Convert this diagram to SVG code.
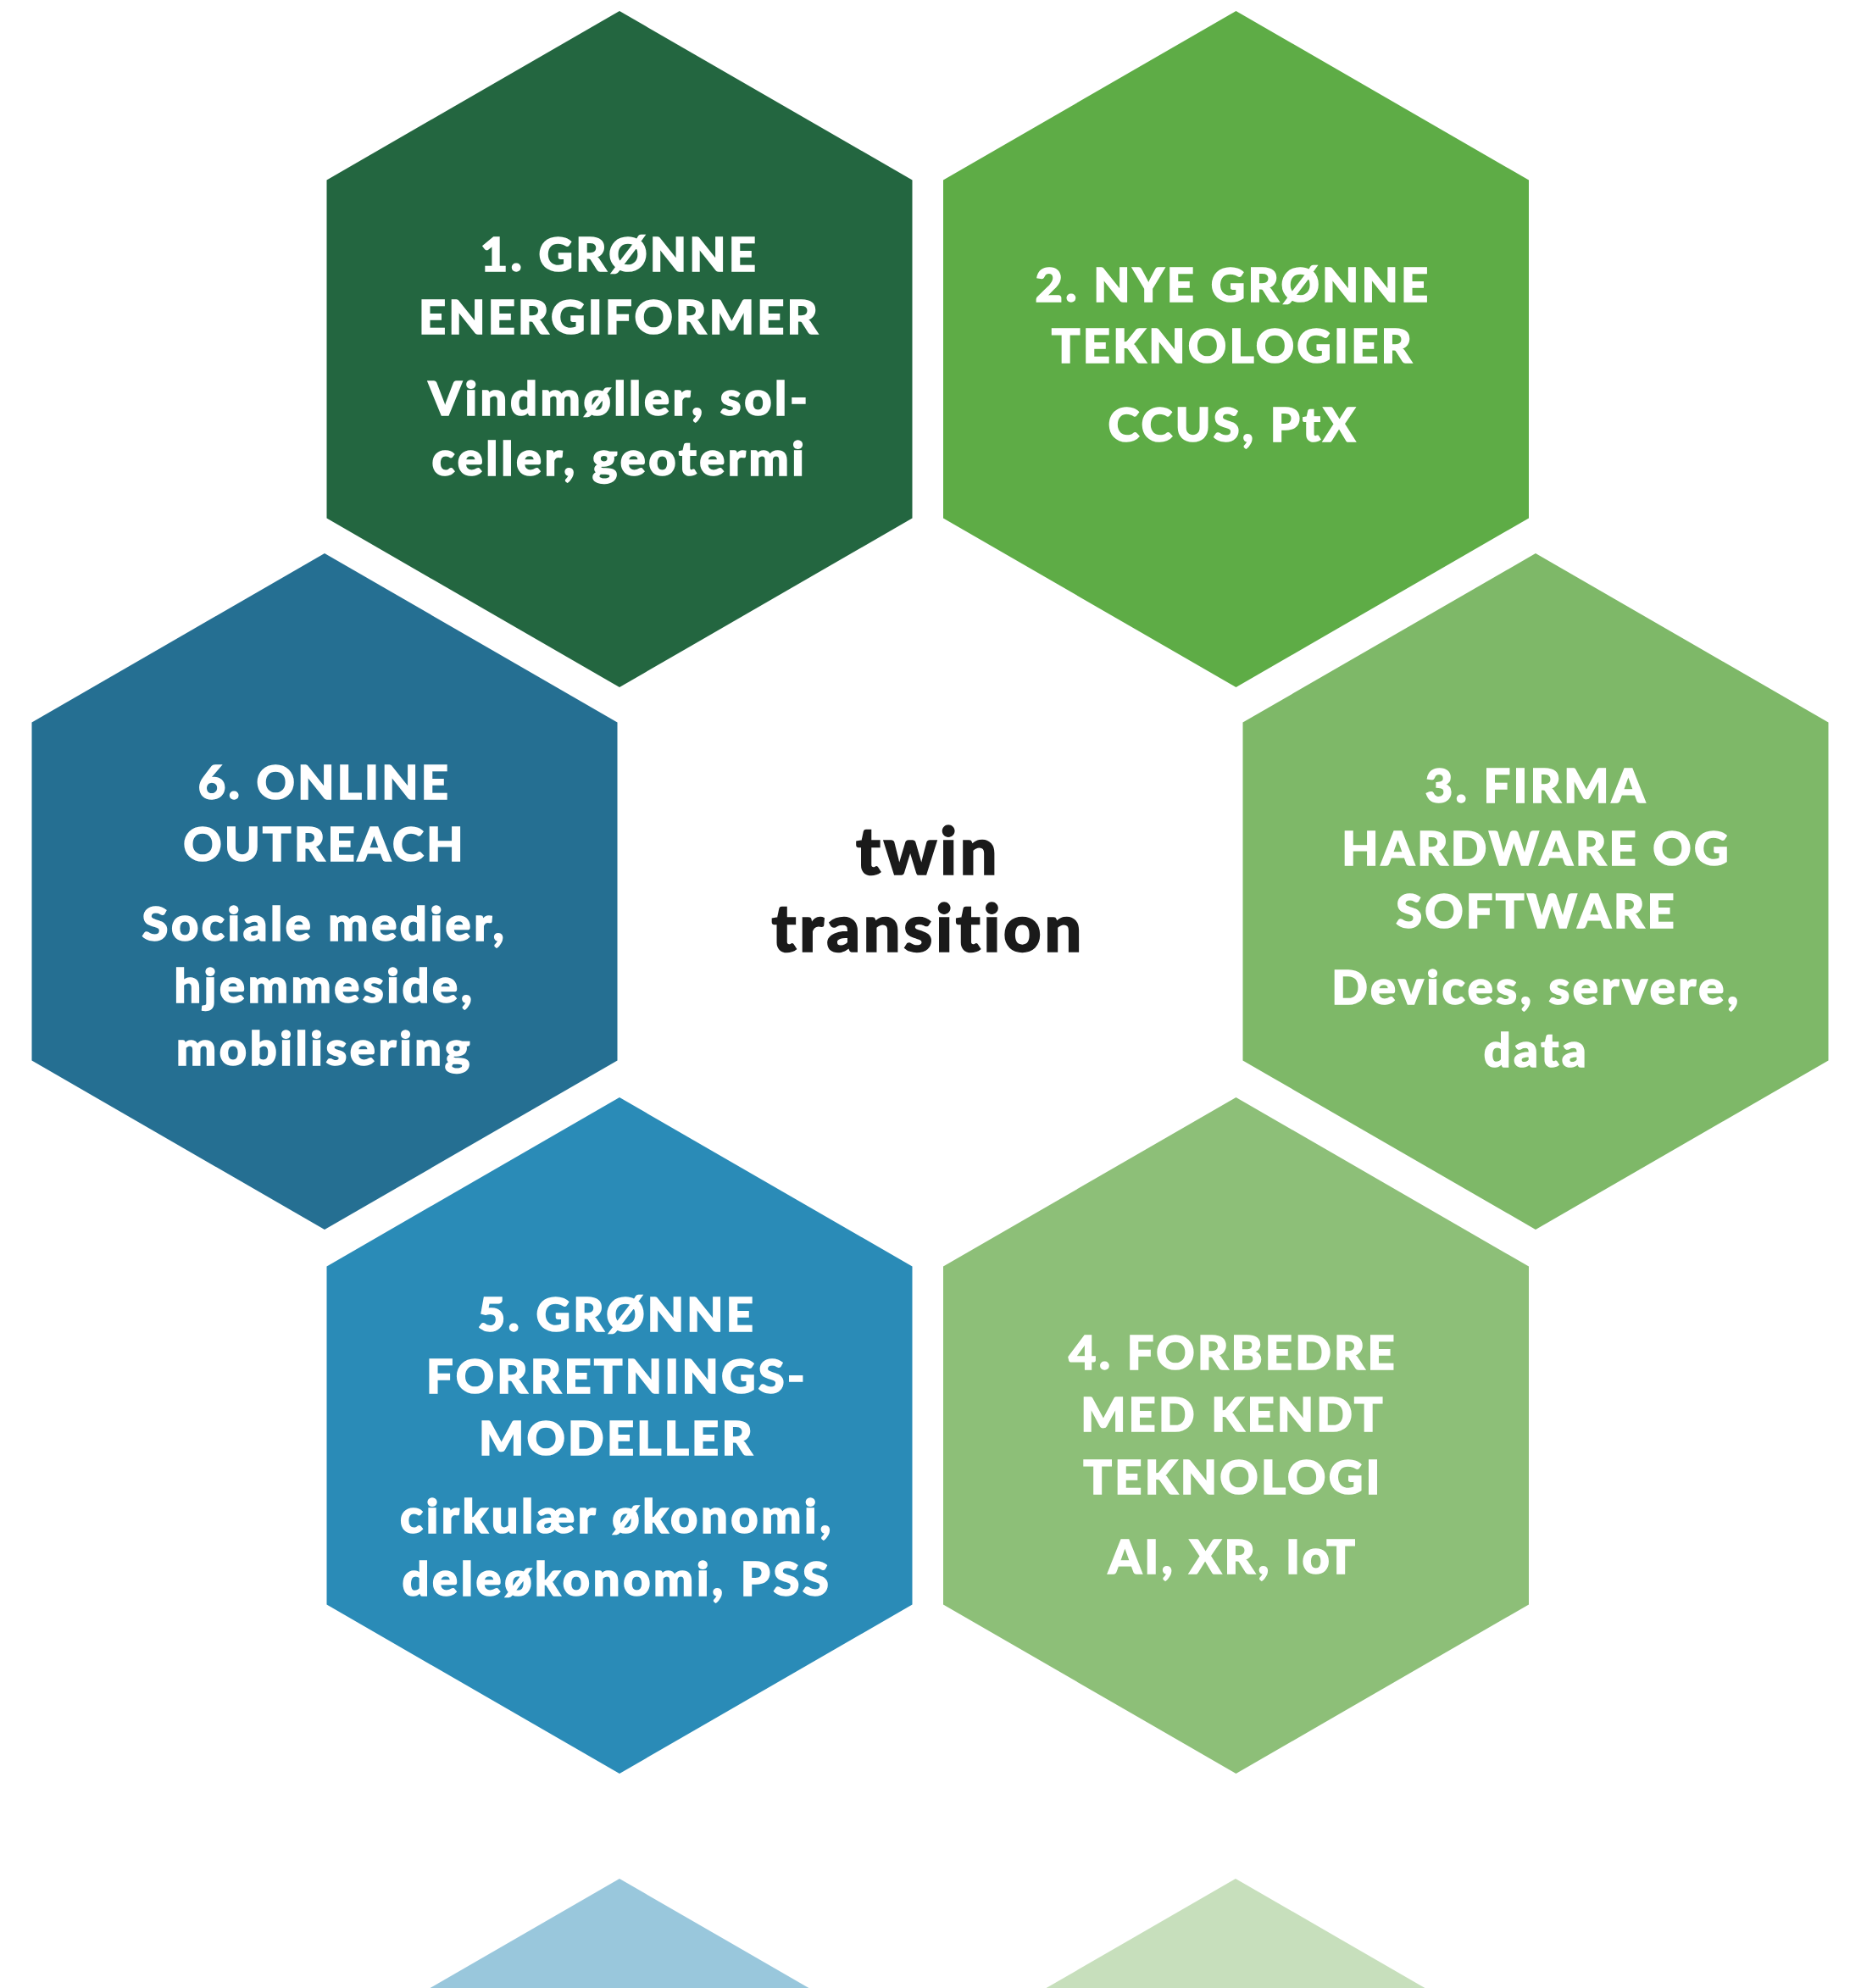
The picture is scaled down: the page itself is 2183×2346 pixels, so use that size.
<svg xmlns="http://www.w3.org/2000/svg" xmlns:xlink="http://www.w3.org/1999/xlink" width="2183" height="2346" viewBox="0 0 2183 2346">
<style>
.t{font-family:Lato,"Open Sans","Liberation Sans",sans-serif;font-weight:900;font-size:56px;letter-spacing:3.2px;fill:#ffffff;stroke:#ffffff;stroke-width:1.5px;text-anchor:middle}
.s{letter-spacing:3.6px}
.c{font-family:Lato,"Open Sans","Liberation Sans",sans-serif;font-weight:900;font-size:78px;letter-spacing:3.3px;fill:#1a1a1a;stroke:#1a1a1a;stroke-width:1.5px;text-anchor:middle}
</style>
<defs>
<polygon id="hex" points="0,-399 345.5,-199.5 345.5,199.5 0,399 -345.5,199.5 -345.5,-199.5"/>
<linearGradient id="gb" gradientUnits="userSpaceOnUse" x1="0" y1="2217" x2="0" y2="2346">
<stop offset="0" stop-color="#99C7DC"/><stop offset="1" stop-color="#ACD2E3"/>
</linearGradient>
<linearGradient id="gg" gradientUnits="userSpaceOnUse" x1="0" y1="2217" x2="0" y2="2346">
<stop offset="0" stop-color="#C7DFBC"/><stop offset="1" stop-color="#D3E6CB"/>
</linearGradient>
</defs>
<rect width="2183" height="2346" fill="#ffffff"/>
<g id="connectors"/>
<g id="node1">
<use xlink:href="#hex" x="731" y="412" fill="#236640"/>
<text class="t" x="731" y="320">1. GRØNNE</text>
<text class="t" x="731" y="394">ENERGIFORMER</text>
<text class="t s" x="731" y="490">Vindmøller, sol-</text>
<text class="t s" x="731" y="561">celler, geotermi</text>
</g>
<g id="node2">
<use xlink:href="#hex" x="1458.5" y="412" fill="#5EAC46"/>
<text class="t" x="1455" y="356">2. NYE GRØNNE</text>
<text class="t" x="1455" y="428">TEKNOLOGIER</text>
<text class="t" x="1455" y="521">CCUS, PtX</text>
</g>
<g id="node3">
<use xlink:href="#hex" x="1812" y="1052" fill="#7EB868"/>
<text class="t" x="1813" y="947">3. FIRMA</text>
<text class="t" x="1813" y="1021">HARDWARE OG</text>
<text class="t" x="1813" y="1095">SOFTWARE</text>
<text class="t s" x="1813" y="1185">Devices, servere,</text>
<text class="t s" x="1813" y="1259">data</text>
</g>
<g id="node4">
<use xlink:href="#hex" x="1458.5" y="1694" fill="#8DBF78"/>
<text class="t" x="1455" y="1616">4. FORBEDRE</text>
<text class="t" x="1455" y="1689">MED KENDT</text>
<text class="t" x="1455" y="1763">TEKNOLOGI</text>
<text class="t" x="1455" y="1857">AI, XR, IoT</text>
</g>
<g id="node5">
<use xlink:href="#hex" x="731" y="1694" fill="#2A8BB7"/>
<text class="t" x="728" y="1571">5. GRØNNE</text>
<text class="t" x="728" y="1644">FORRETNINGS-</text>
<text class="t" x="728" y="1717">MODELLER</text>
<text class="t s" x="728" y="1809">cirkulær økonomi,</text>
<text class="t s" x="728" y="1883">deleøkonomi, PSS</text>
</g>
<g id="node6">
<use xlink:href="#hex" x="383" y="1052" fill="#256F92"/>
<text class="t" x="383" y="943">6. ONLINE</text>
<text class="t" x="383" y="1016">OUTREACH</text>
<text class="t s" x="383" y="1110">Sociale medier,</text>
<text class="t s" x="383" y="1183">hjemmeside,</text>
<text class="t s" x="383" y="1257">mobilisering</text>
</g>
<g id="center">
<text class="c" x="1095" y="1032">twin</text>
<text class="c" x="1095" y="1123">transition</text>
</g>
<g id="faded-left"><use xlink:href="#hex" x="731" y="2616" fill="url(#gb)"/></g>
<g id="faded-right"><use xlink:href="#hex" x="1458" y="2616" fill="url(#gg)"/></g>
</svg>
